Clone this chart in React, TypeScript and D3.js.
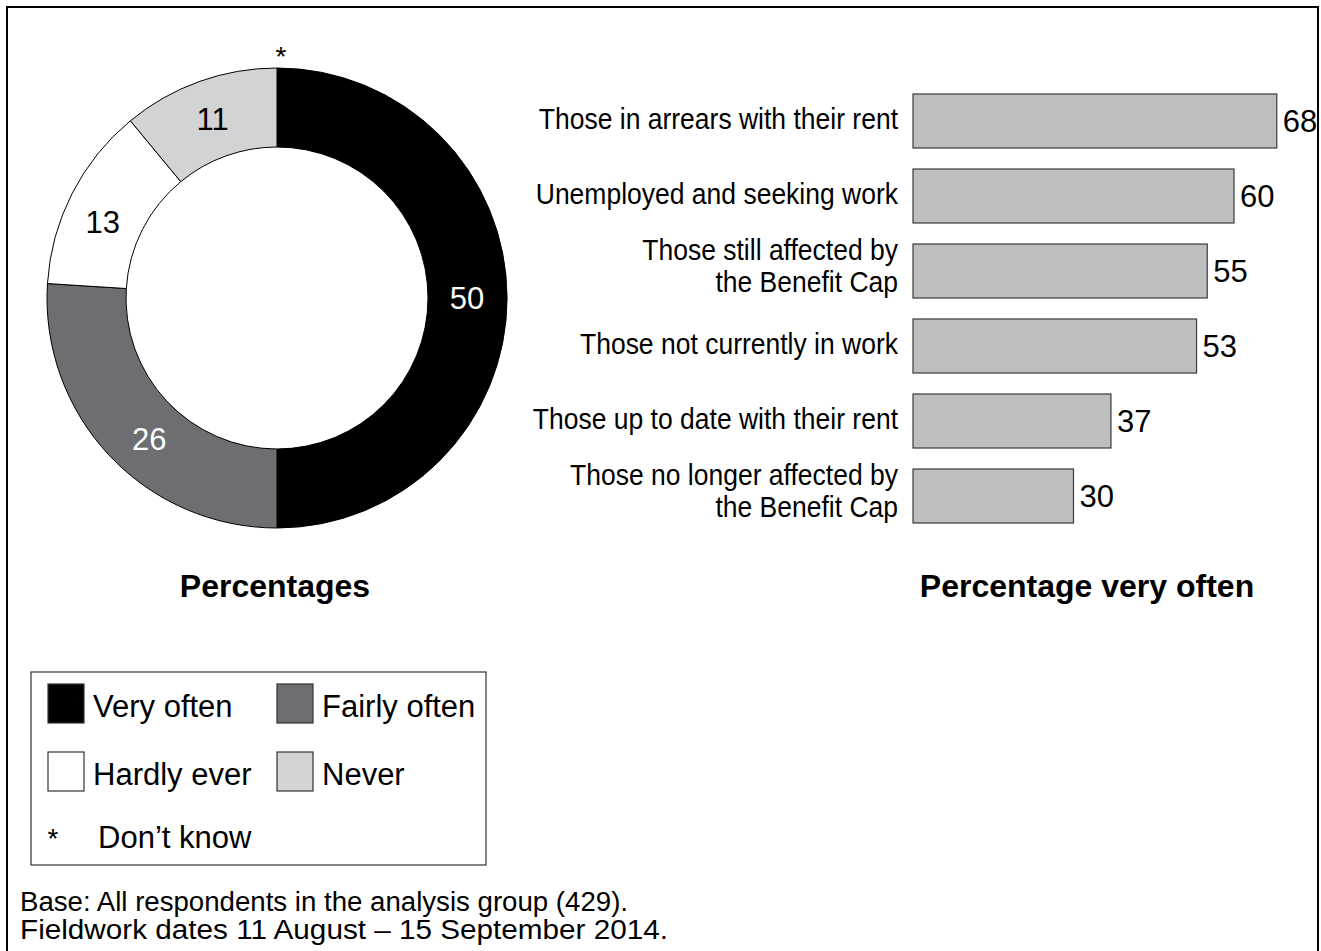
import React from "react";
import * as d3 from "d3";

const donutCategories = ["Very often", "Fairly often", "Hardly ever", "Never"];
const donutValues = [50, 26, 13, 11];
const donutColors = ["#000000", "#6d6e71", "#ffffff", "#d1d3d4"];
const donutLabelColors = ["#ffffff", "#ffffff", "#000000", "#000000"];

const barCategories = [
  "Those in arrears with their rent",
  "Unemployed and seeking work",
  "Those still affected by\nthe Benefit Cap",
  "Those not currently in work",
  "Those up to date with their rent",
  "Those no longer affected by\nthe Benefit Cap",
];
const barValues = [68, 60, 55, 53, 37, 30];

const footerLines = [
  "Base: All respondents in the analysis group (429).",
  "Fieldwork dates 11 August \u2013 15 September 2014.",
];

const FONT = "'Liberation Sans', Arial, Helvetica, sans-serif";

export default function App() {
  const W = 1321;
  const H = 951;
  const cx = 277;
  const cy = 298;
  const pie = d3.pie<number>().sort(null).value((d) => d);
  const arcs = pie(donutValues);
  const arc = d3.arc<d3.PieArcDatum<number>>().innerRadius(151).outerRadius(230);

  const x = d3.scaleLinear().domain([0, 100]).range([913, 1448]);
  const y = d3
    .scaleBand<string>()
    .domain(barCategories)
    .range([94, 523])
    .paddingInner(0.28)
    .paddingOuter(0);

  const legendCols = [48, 277];
  const legendRows = [684, 752];

  return (
    <svg
      width={W}
      height={H}
      style={{ position: "absolute", left: 0, top: 0, background: "#fff" }}
      fontFamily={FONT}
    >
      <rect x={0} y={0} width={W} height={H} fill="#fff" />
      <rect x={7} y={7} width={1311} height={980} fill="none" stroke="#000" strokeWidth={2} />

      {/* Donut */}
      <g transform={`translate(${cx},${cy})`}>
        {arcs.map((a, i) => (
          <path key={i} d={arc(a) || ""} fill={donutColors[i]} stroke="#000" strokeWidth={1} />
        ))}
        {arcs.map((a, i) => {
          const mid = (a.startAngle + a.endAngle) / 2 - (i === 1 ? 0.08 : i === 2 ? 0.06 : 0);
          const r = 190;
          const lx = r * Math.sin(mid);
          const ly = -r * Math.cos(mid);
          return (
            <text
              key={"l" + i}
              x={lx}
              y={ly + 11}
              textAnchor="middle"
              fontSize={31}
              fill={donutLabelColors[i]}
            >
              {donutValues[i]}
            </text>
          );
        })}
        <text x={4} y={-230 - 2} textAnchor="middle" fontSize={28} fill="#000">
          *
        </text>
      </g>
      <text x={275} y={597} textAnchor="middle" fontSize={32} fontWeight="bold">
        Percentages
      </text>

      {/* Bars */}
      {barCategories.map((c, i) => {
        const y0 = y(c)!;
        const bw = y.bandwidth();
        const mid = y0 + bw / 2;
        const lines = c.split("\n");
        return (
          <g key={c}>
            <rect
              x={x(0)}
              y={y0}
              width={x(barValues[i]) - x(0)}
              height={bw}
              fill="#bcbec0"
              stroke="#3a3a3a"
              strokeWidth={1.2}
            />
            <text x={x(barValues[i]) + 6} y={mid + 11} fontSize={31} fill="#000">
              {barValues[i]}
            </text>
            {lines.map((ln, j) => (
              <text
                key={j}
                transform={`translate(898,${lines.length === 1 ? mid + 8 : mid - 11 + j * 32}) scale(1,1.12)`}
                textAnchor="end"
                fontSize={26.5}
                fill="#000"
              >
                {ln}
              </text>
            ))}
          </g>
        );
      })}
      <text x={1087} y={597} textAnchor="middle" fontSize={32} fontWeight="bold">
        Percentage very often
      </text>

      {/* Legend */}
      <rect x={31} y={672} width={455} height={193} fill="#fff" stroke="#333" strokeWidth={1.2} />
      {donutCategories.map((c, i) => {
        const lx = legendCols[i % 2];
        const ly = legendRows[Math.floor(i / 2)];
        return (
          <g key={c}>
            <rect x={lx} y={ly} width={36} height={39} fill={donutColors[i]} stroke="#333" strokeWidth={1.2} />
            <text x={lx + 45} y={ly + 33} fontSize={31} fill="#000">
              {c}
            </text>
          </g>
        );
      })}
      <text x={53} y={848} textAnchor="middle" fontSize={28}>
        *
      </text>
      <text x={98} y={848} fontSize={31}>
        Don{"\u2019"}t know
      </text>

      {/* Footer */}
      {footerLines.map((t, i) => (
        <text
          key={i}
          x={20}
          y={911 + i * 28}
          fontSize={27}
          textLength={i === 0 ? 608 : 648}
          lengthAdjust="spacingAndGlyphs"
        >
          {t}
        </text>
      ))}
    </svg>
  );
}
